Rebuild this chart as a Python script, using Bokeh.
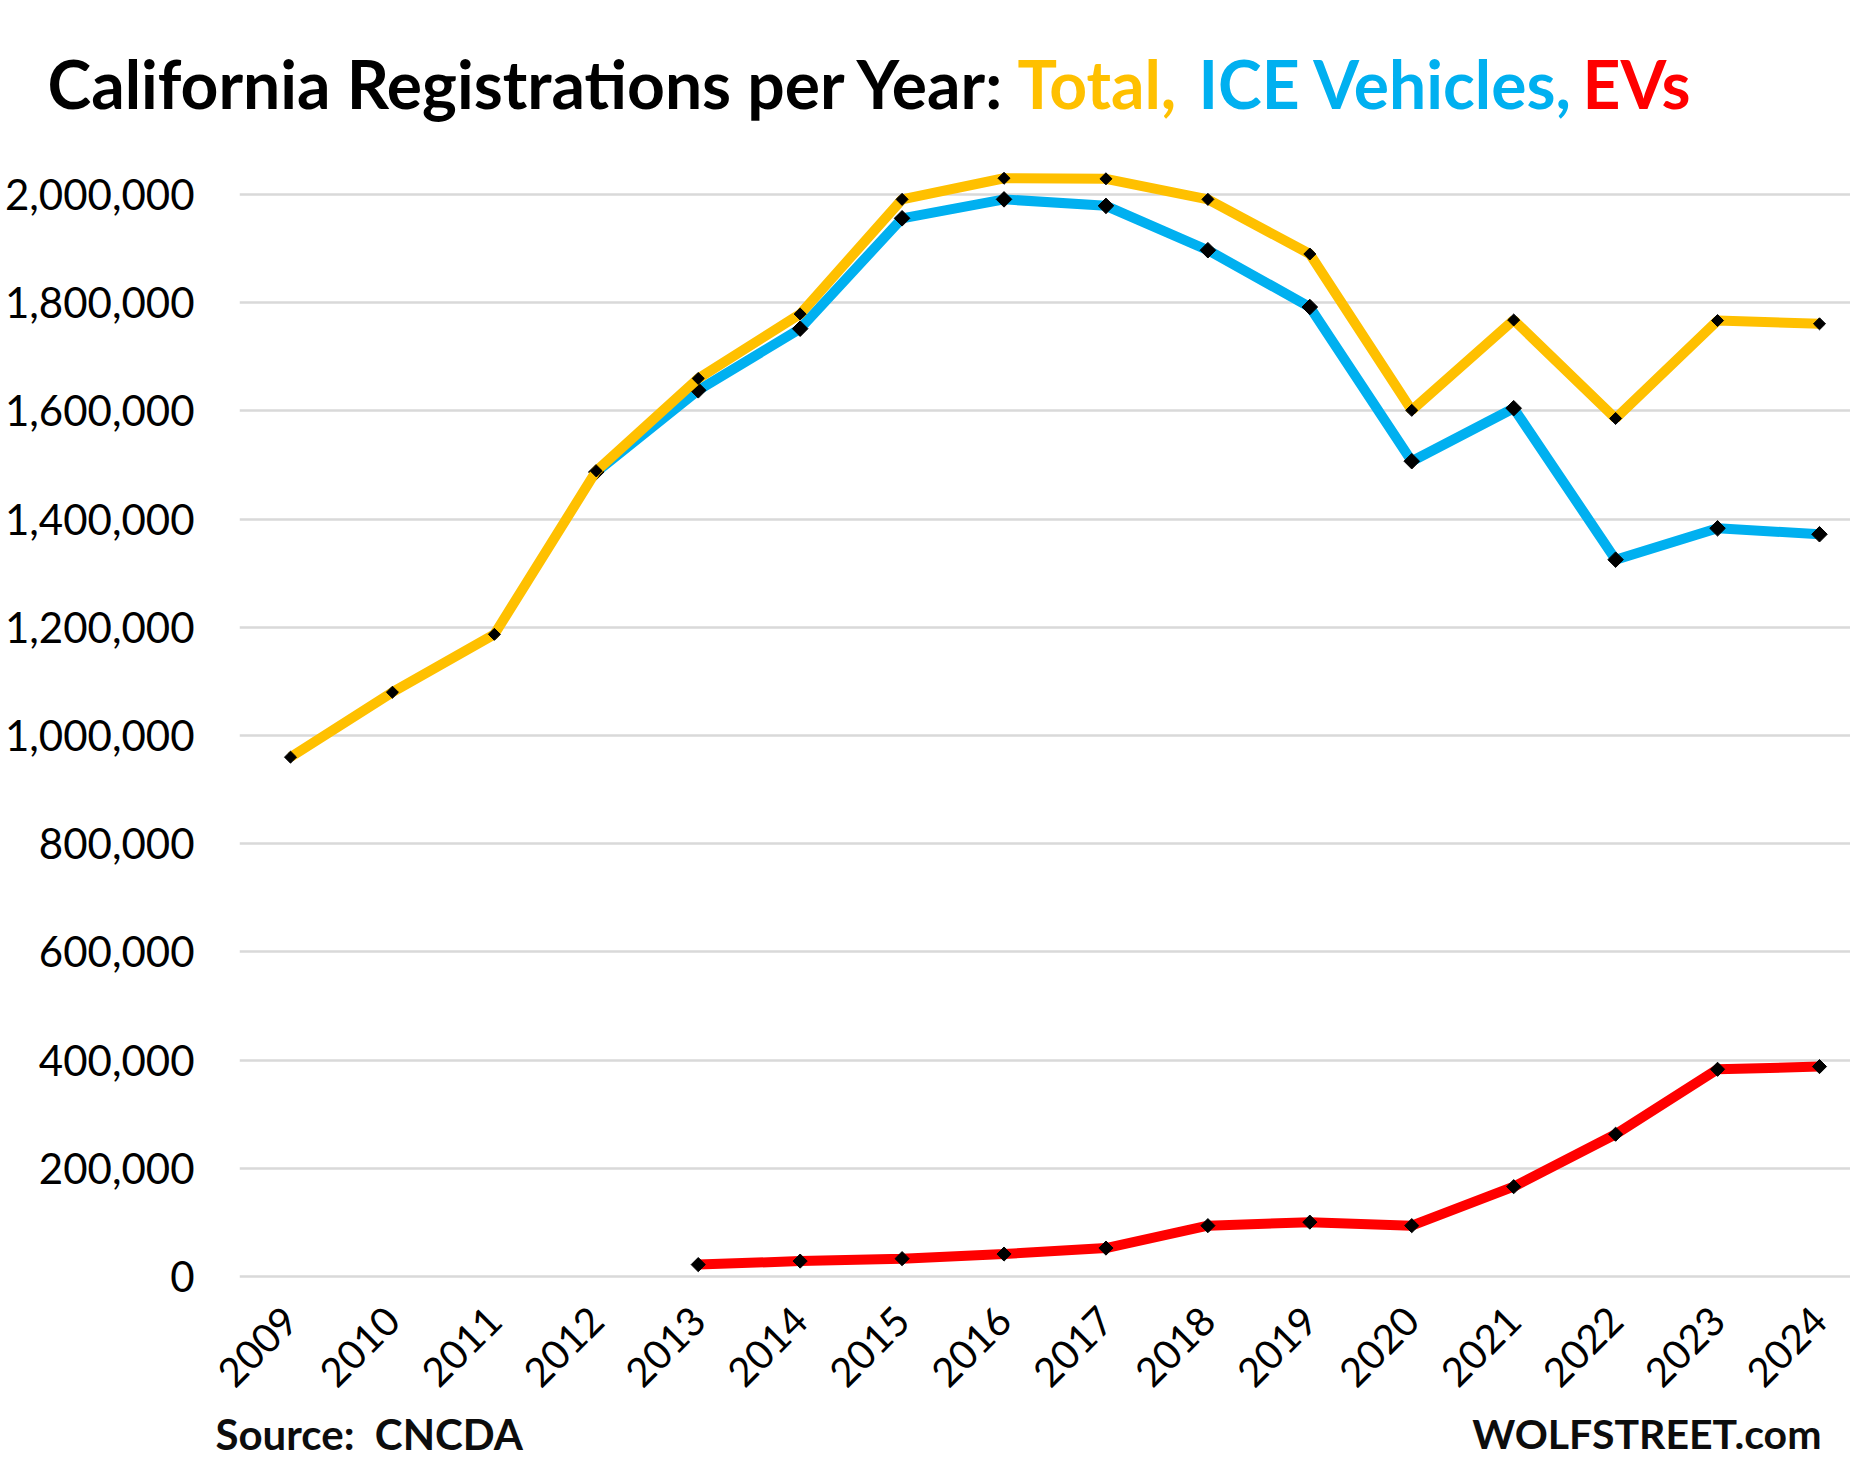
from bokeh.plotting import figure
from bokeh.models import FixedTicker, NumeralTickFormatter, Label, Range1d
from bokeh.layouts import column
from bokeh.embed import file_html
from bokeh.resources import INLINE

# ---- data ----
years_total = [2009, 2010, 2011, 2012, 2013, 2014, 2015, 2016, 2017, 2018, 2019, 2020, 2021, 2022, 2023, 2024]
total = [960000, 1080000, 1187000, 1489000, 1660000, 1779000, 1991000, 2030000, 2029000, 1991000, 1890000, 1601000, 1768000, 1586000, 1767000, 1761000]

years_ice = [2012, 2013, 2014, 2015, 2016, 2017, 2018, 2019, 2020, 2021, 2022, 2023, 2024]
ice = [1487000, 1638000, 1752000, 1956000, 1991000, 1979000, 1897000, 1792000, 1507000, 1605000, 1325000, 1383000, 1372000]

years_ev = [2013, 2014, 2015, 2016, 2017, 2018, 2019, 2020, 2021, 2022, 2023, 2024]
ev = [22000, 28500, 33000, 41500, 52500, 94000, 100500, 94000, 166000, 263000, 383000, 388000]

y_ticks = [0, 200000, 400000, 600000, 800000, 1000000, 1200000, 1400000, 1600000, 1800000, 2000000]
x_ticks = years_total

title_parts = ["California Registrations per Year:", "Total,", "ICE Vehicles,", "EVs"]
title_colors = ["#000000", "#FFC000", "#00B0F0", "#FF0000"]
source_text = "Source:\u00a0\u00a0CNCDA"
brand_text = "WOLFSTREET.com"

# ---- layout constants ----
W = 1850
TH, MH, BH = 140, 1267, 72      # title / main / footer figure heights
FL = 239                         # main frame left (canvas px)
MB = 127                         # main bottom border
FONT = "Lato"


def blank_fig(h):
    f = figure(width=W, height=h, output_backend="svg", toolbar_location=None,
               x_range=Range1d(0, W), y_range=Range1d(0, h), title=None,
               min_border=0, min_border_left=0, min_border_right=0,
               min_border_top=0, min_border_bottom=0,
               x_axis_type=None, y_axis_type=None, frame_align=False)
    f.grid.visible = False
    f.outline_line_color = None
    f.background_fill_color = "white"
    f.border_fill_color = "white"
    return f


# ---- title ----
ft = blank_fig(TH)
title_x = [47, 1017, 1198, 1582]   # left edges (canvas px)
for txt, col, tx in zip(title_parts, title_colors, title_x):
    ft.add_layout(Label(x=tx, y=TH - 83, text=txt, text_color=col, text_font=FONT,
                        text_font_style="bold", text_font_size="66px",
                        text_baseline="middle", text_align="left"))

# ---- main chart ----
p = figure(width=W, height=MH, output_backend="svg", toolbar_location=None,
           min_border_left=FL, min_border_right=0, min_border_top=0,
           min_border_bottom=MB, frame_align=False)
p.x_range = Range1d(2008.4997, 2024.3042)
p.y_range = Range1d(-7394, 2099815)
p.outline_line_color = None
p.background_fill_color = "white"
p.border_fill_color = "white"

p.yaxis.ticker = FixedTicker(ticks=y_ticks)
p.yaxis.formatter = NumeralTickFormatter(format="0,0")
p.yaxis.axis_line_color = None
p.yaxis.major_tick_line_color = None
p.yaxis.minor_tick_line_color = None
p.yaxis.major_tick_out = 0
p.yaxis.major_tick_in = 0
p.yaxis.major_label_standoff = 45
p.yaxis.major_label_text_font = FONT
p.yaxis.major_label_text_font_size = "42px"
p.yaxis.major_label_text_color = "#000000"

p.xaxis.ticker = FixedTicker(ticks=x_ticks)
p.xaxis.axis_line_color = None
p.xaxis.major_tick_line_color = None
p.xaxis.minor_tick_line_color = None
p.xaxis.major_tick_out = 0
p.xaxis.major_tick_in = 0
p.xaxis.major_label_orientation = 0.785398
p.xaxis.major_label_standoff = 33
p.xaxis.major_label_text_font = FONT
p.xaxis.major_label_text_font_size = "40px"
p.xaxis.major_label_text_color = "#000000"

p.xgrid.grid_line_color = None
p.ygrid.ticker = FixedTicker(ticks=y_ticks)
p.ygrid.grid_line_color = "#D9D9D9"
p.ygrid.grid_line_width = 2.5

DIAMOND = 0.785398
p.line(years_ice, ice, line_color="#00B0F0", line_width=10)
p.scatter(years_ice, ice, marker="square", angle=DIAMOND, size=11, color="black")
p.line(years_total, total, line_color="#FFC000", line_width=10)
p.scatter(years_total, total, marker="square", angle=DIAMOND, size=8.5, color="black")
p.line(years_ev, ev, line_color="#FF0000", line_width=10)
p.scatter(years_ev, ev, marker="square", angle=DIAMOND, size=10, color="black")

# ---- footer ----
fb = blank_fig(BH)
fb.add_layout(Label(x=215, y=BH - 26, text=source_text, text_color="#0D0D0D", text_font=FONT,
                    text_font_style="bold", text_font_size="42px",
                    text_baseline="middle", text_align="left"))
fb.add_layout(Label(x=1821, y=BH - 26, text=brand_text, text_color="#0D0D0D", text_font=FONT,
                    text_font_style="bold", text_font_size="41px",
                    text_baseline="middle", text_align="right"))

layout = column(ft, p, fb, spacing=0)
open("out.html", "w").write(file_html(layout, INLINE))
